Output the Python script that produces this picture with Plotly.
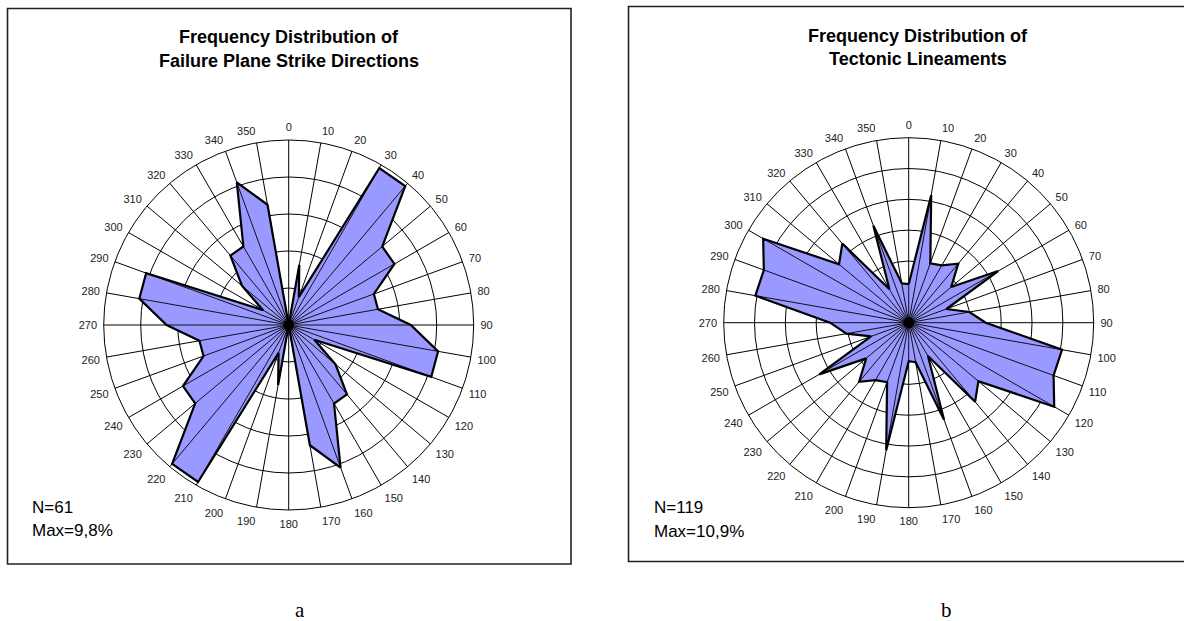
import plotly.graph_objects as go

W, H = 1184, 621

directions = list(range(0, 360, 10))
tick_labels = [str(d) for d in directions]

# Failure plane strike directions (% of N=61)
failure_pct = [0.0, 3.3, 1.6, 9.8, 9.8, 6.6, 6.6, 4.9, 4.9, 6.6, 8.2, 8.2,
               1.6, 3.3, 4.9, 4.9, 8.2, 6.6, 0.0, 3.3, 1.6, 9.8, 9.8, 6.6,
               6.6, 4.9, 4.9, 6.6, 8.2, 8.2, 1.6, 3.3, 4.9, 4.9, 8.2, 6.6]

# Tectonic lineaments (% of N=119)
lineament_pct = [2.5, 8.4, 4.1, 4.3, 5.0, 3.6, 6.7, 2.6, 4.0, 5.0, 10.1, 10.0,
                 10.9, 5.9, 6.7, 2.5, 6.7, 2.6, 2.5, 8.4, 4.1, 4.3, 5.0, 3.6,
                 6.7, 2.6, 4.1, 5.1, 10.1, 10.0, 10.9, 5.9, 6.7, 2.5, 6.7, 2.6]

titles = [["Frequency Distribution of", "Failure Plane Strike Directions"],
          ["Frequency Distribution of", "Tectonic Lineaments"]]
stats = [["N=61", "Max=9,8%"], ["N=119", "Max=10,9%"]]
panel_letters = ["a", "b"]
radial_max = [10, 12]

FILL = "#9999FF"


def px(x):
    return x / W


def py(y):
    return 1 - y / H


fig = go.Figure()

panels = [
    dict(data=failure_pct, cx=288.7, cy=325.0, R=185, sub="polar"),
    dict(data=lineament_pct, cx=908.7, cy=322.7, R=185, sub="polar2"),
]

for p in panels:
    vals = p["data"]
    # filled polygon
    fig.add_trace(go.Scatterpolar(
        r=vals + [vals[0]], theta=directions + [directions[0]],
        mode="lines", fill="toself", fillcolor=FILL,
        line=dict(color="black", width=2.2), subplot=p["sub"],
        showlegend=False, hoverinfo="skip"))
    # spokes over the fill (centre to each vertex)
    rs, ts = [], []
    for d, v in zip(directions, vals):
        rs += [0, v, None]
        ts += [d, d, None]
    fig.add_trace(go.Scatterpolar(
        r=rs, theta=ts, mode="lines", line=dict(color="black", width=0.9),
        subplot=p["sub"], showlegend=False, hoverinfo="skip"))
    # dark centre
    fig.add_trace(go.Scatterpolar(
        r=[0], theta=[0], mode="markers",
        marker=dict(color="black", size=11), subplot=p["sub"],
        showlegend=False, hoverinfo="skip"))

for i, p in enumerate(panels):
    rmax = radial_max[i]
    dom = dict(x=[px(p["cx"] - p["R"]), px(p["cx"] + p["R"])],
               y=[py(p["cy"] + p["R"]), py(p["cy"] - p["R"])])
    polar = dict(
        domain=dom, bgcolor="white",
        radialaxis=dict(range=[0, rmax], tickvals=list(range(2, rmax + 1, 2)),
                        showticklabels=False, ticks="", showline=False,
                        showgrid=True, gridcolor="black", gridwidth=1),
        angularaxis=dict(direction="clockwise", rotation=90,
                         tickmode="array", tickvals=directions, ticktext=tick_labels,
                         ticks="outside", ticklen=4, tickcolor="rgba(0,0,0,0)",
                         showline=True, linecolor="black", linewidth=1,
                         showgrid=True, gridcolor="black", gridwidth=1,
                         tickfont=dict(family="Liberation Sans, Arial", size=11, color="#222")),
    )
    fig.update_layout(**{p["sub"]: polar})

boxes = [(7.5, 8.5, 571, 564), (628.5, 6.5, 1190, 561.5)]
for (x0, y0, x1, y1) in boxes:
    fig.add_shape(type="rect", xref="paper", yref="paper",
                  x0=px(x0), x1=px(x1), y0=py(y1), y1=py(y0),
                  line=dict(color="#222", width=1.6), fillcolor="rgba(0,0,0,0)")

title_pos = [(289, 37, 61), (918, 36, 59)]
stat_pos = [(30, 507, 530), (652, 507, 531)]
letter_pos = [(300, 610), (947, 610)]

for i in range(2):
    tx, ty1, ty2 = title_pos[i]
    for line, yy in zip(titles[i], (ty1, ty2)):
        fig.add_annotation(x=px(tx), y=py(yy), xref="paper", yref="paper",
                           text="<b>" + line + "</b>", showarrow=False,
                           xanchor="center", yanchor="middle",
                           font=dict(family="Liberation Sans, Arial", size=18, color="black"))
    sx, sy1, sy2 = stat_pos[i]
    for line, yy in zip(stats[i], (sy1, sy2)):
        fig.add_annotation(x=px(sx), y=py(yy), xref="paper", yref="paper",
                           text=line, showarrow=False, xanchor="left", yanchor="middle",
                           font=dict(family="Liberation Sans, Arial", size=17, color="black"))
    lx, ly = letter_pos[i]
    fig.add_annotation(x=px(lx), y=py(ly), xref="paper", yref="paper",
                       text=panel_letters[i], showarrow=False,
                       xanchor="center", yanchor="middle",
                       font=dict(family="Liberation Serif, Times New Roman", size=21, color="black"))

fig.update_layout(width=W, height=H, margin=dict(l=0, r=0, t=0, b=0),
                  paper_bgcolor="white", plot_bgcolor="white", showlegend=False)

fig.write_html("out.html", config={"displayModeBar": False},
               post_script="document.body.style.margin='0';document.body.style.overflow='hidden';")
